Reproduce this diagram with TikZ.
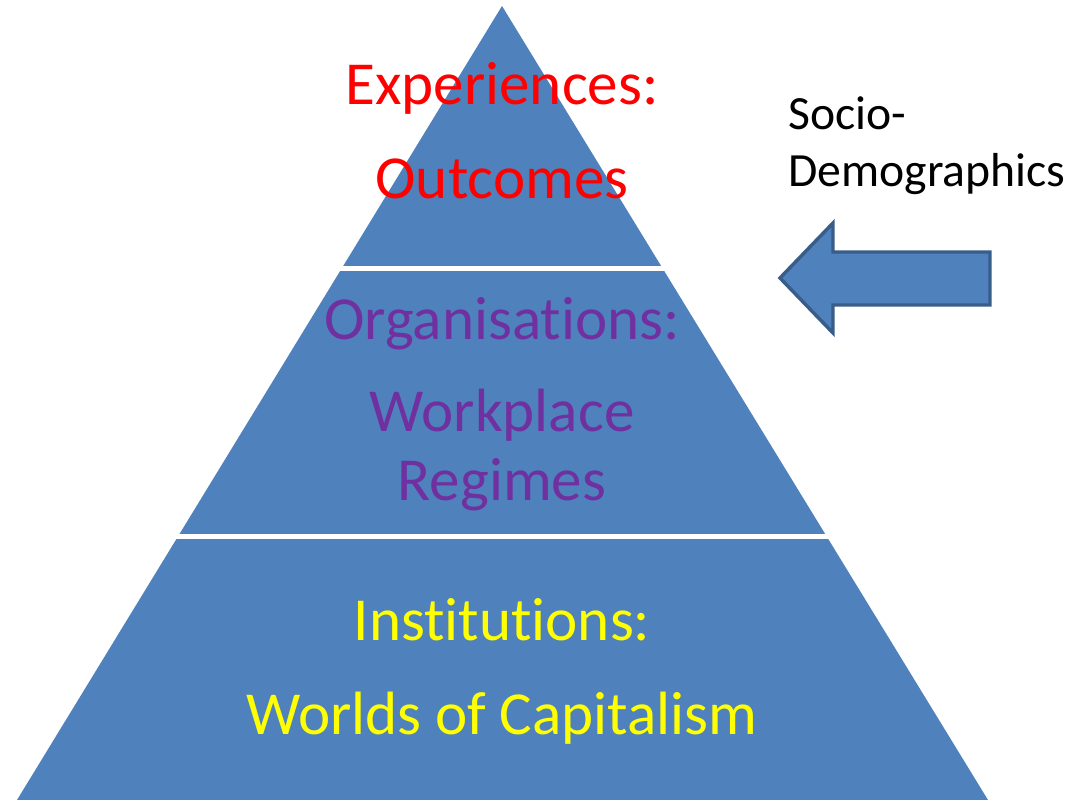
\documentclass[tikz,border=0pt]{standalone}
\usepackage{fontspec}
\setmainfont{Carlito}[Ligatures={NoCommon,NoContextual},RawFeature={-calt}]
\usepackage{xcolor}
\usepackage{tikz}
\usetikzlibrary{arrows.meta,positioning}
\definecolor{pyrblue}{HTML}{4F81BD}
\definecolor{pyredge}{HTML}{385D8A}
\definecolor{pyrred}{HTML}{FF0000}
\definecolor{pyrpurple}{HTML}{7030A0}
\definecolor{pyryellow}{HTML}{FFFF00}

\begin{document}
\begin{tikzpicture}[x=0.6711pt, y=-0.6711pt, >=Latex,
  every node/.style={inner sep=0pt, anchor=base},
  tier/.style={font=\fontsize{41}{49}\selectfont},
  side/.style={font=\fontsize{32}{38.4}\selectfont, anchor=base west}]
  \useasboundingbox (0,0) rectangle (1073,800);

  % pyramid, cut into three tiers by white gaps
  \fill[pyrblue] (502,6) -- (988,800) -- (17,800) -- cycle;
  \fill[white] (0,266) rectangle (1073,271);
  \fill[white] (0,534) rectangle (1073,539);

  % tier labels
  \node[tier, pyrred] (exp) at (502,105) {Experiences:};
  \node[tier, pyrred] (outc) at (502,199) {Outcomes};
  \node[tier, pyrpurple] (org) at (502,339) {Organisations:};
  \node[tier, pyrpurple] (work) at (502,432) {Workplace};
  \node[tier, pyrpurple] (reg) at (502,500) {Regimes};
  \node[tier, pyryellow] (inst) at (502,640) {Institutions:};
  \node[tier, pyryellow] (world) at (502,734) {Worlds of Capitalism};

  % side influence
  \node[side] (socio) at (788,130) {Socio-};
  \node[side] (demo) at (788,187) {Demographics};
  \draw[pyredge, line width=2.3pt, fill=pyrblue, line join=miter]
    (780,278) -- (833,223) -- (833,252) -- (990,252) -- (990,305)
    -- (833,305) -- (833,333) -- cycle;
\end{tikzpicture}
\end{document}
